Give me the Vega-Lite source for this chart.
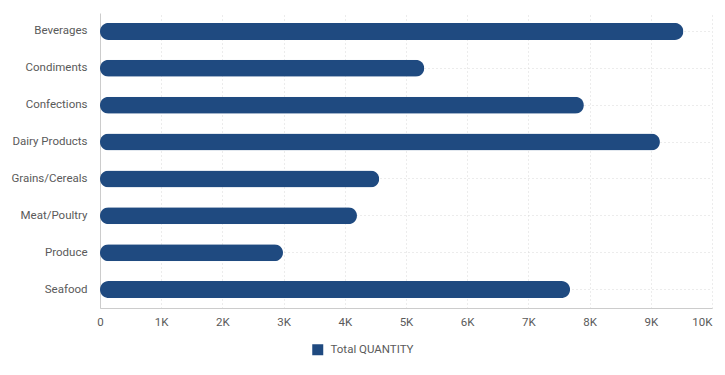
{
  "$schema": "https://vega.github.io/schema/vega-lite/v6.json",
  "autosize": "none",
  "width": 612,
  "height": 295,
  "padding": {"left": 100, "top": 13, "right": 13, "bottom": 67},
  "background": "white",
  "data": {
    "values": [
      {"category": "Beverages", "quantity": 9532, "series": "Total QUANTITY"},
      {"category": "Condiments", "quantity": 5298, "series": "Total QUANTITY"},
      {"category": "Confections", "quantity": 7906, "series": "Total QUANTITY"},
      {"category": "Dairy Products", "quantity": 9149, "series": "Total QUANTITY"},
      {"category": "Grains/Cereals", "quantity": 4562, "series": "Total QUANTITY"},
      {"category": "Meat/Poultry", "quantity": 4199, "series": "Total QUANTITY"},
      {"category": "Produce", "quantity": 2990, "series": "Total QUANTITY"},
      {"category": "Seafood", "quantity": 7681, "series": "Total QUANTITY"}
    ]
  },
  "mark": {"type": "bar", "size": 17, "cornerRadius": 8.5},
  "encoding": {
    "y": {
      "field": "category",
      "type": "nominal",
      "sort": null,
      "title": null,
      "axis": {
        "ticks": false,
        "labelPadding": 13,
        "labelFont": "Roboto",
        "labelFontSize": 11.5,
        "labelColor": "#5a5a5a",
        "domainColor": "#ccc",
        "grid": true,
        "gridDash": [1, 3],
        "gridColor": "#d8d8d8"
      }
    },
    "x": {
      "field": "quantity",
      "type": "quantitative",
      "title": null,
      "scale": {"domain": [0, 10000], "nice": false},
      "axis": {
        "values": [0, 1000, 2000, 3000, 4000, 5000, 6000, 7000, 8000, 9000, 10000],
        "labelExpr": "datum.value == 0 ? '0' : (datum.value / 1000) + 'K'",
        "labelAlign": {"condition": {"test": "datum.value == 10000", "value": "right"}, "value": "center"},
        "ticks": false,
        "labelPadding": 8,
        "labelFont": "Roboto",
        "labelFontSize": 11.5,
        "labelColor": "#5a5a5a",
        "domainColor": "#ccc",
        "gridDash": [1, 3],
        "gridColor": "#d8d8d8",
        "labelFlush": false
      }
    },
    "color": {
      "field": "series",
      "type": "nominal",
      "scale": {"range": ["#1f4a80"]},
      "legend": {
        "title": null,
        "orient": "none",
        "legendX": 212,
        "legendY": 331,
        "symbolType": "square",
        "symbolSize": 121,
        "symbolStrokeWidth": 0,
        "labelFont": "Roboto",
        "labelFontSize": 11.5,
        "labelColor": "#5a5a5a",
        "labelOffset": 7
      }
    }
  },
  "config": {"view": {"stroke": null}}
}
